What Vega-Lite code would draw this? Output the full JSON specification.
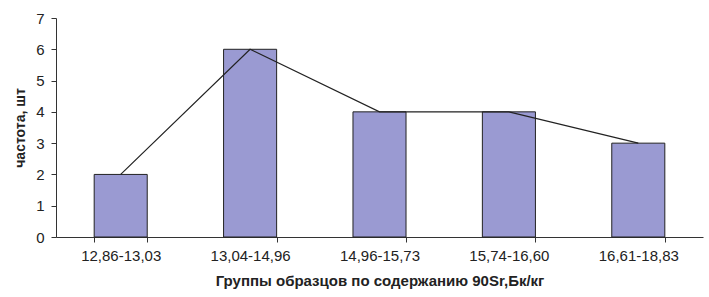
{
  "$schema": "https://vega.github.io/schema/vega-lite/v6.json",
  "width": 647,
  "height": 219,
  "autosize": {"type": "none"},
  "padding": {"left": 56, "top": 18, "right": 6, "bottom": 60},
  "background": "white",
  "config": {
    "view": {"stroke": null},
    "font": "Liberation Sans"
  },
  "data": {
    "values": [
      {"group": "12,86-13,03", "count": 2},
      {"group": "13,04-14,96", "count": 6},
      {"group": "14,96-15,73", "count": 4},
      {"group": "15,74-16,60", "count": 4},
      {"group": "16,61-18,83", "count": 3}
    ]
  },
  "encoding": {
    "x": {
      "field": "group",
      "type": "nominal",
      "sort": null,
      "scale": {"paddingInner": 0.59, "paddingOuter": 0.295},
      "axis": {
        "title": "Группы образцов по содержанию 90Sr,Бк/кг",
        "titleFont": "Liberation Sans",
        "titleFontSize": 15,
        "titleFontWeight": "bold",
        "titleColor": "#222",
        "titlePadding": 10,
        "labelAngle": 0,
        "labelFontSize": 15,
        "labelColor": "#222",
        "labelPadding": 6,
        "tickBand": "extent",
        "tickSize": 5,
        "tickColor": "#333",
        "domainColor": "#333",
        "grid": false
      }
    },
    "y": {
      "field": "count",
      "type": "quantitative",
      "scale": {"domain": [0, 7], "nice": false},
      "axis": {
        "title": "частота, шт",
        "titleFont": "Liberation Sans",
        "titleFontSize": 14,
        "titleFontWeight": "bold",
        "titleColor": "#222",
        "titlePadding": 8,
        "values": [0, 1, 2, 3, 4, 5, 6, 7],
        "labelFontSize": 15,
        "labelColor": "#222",
        "labelPadding": 7,
        "tickSize": 5,
        "tickColor": "#333",
        "domainColor": "#333",
        "grid": false
      }
    }
  },
  "layer": [
    {
      "mark": {"type": "bar", "color": "#9a9ad2", "stroke": "#222", "strokeWidth": 1}
    },
    {
      "mark": {"type": "line", "color": "#222", "strokeWidth": 1.2}
    }
  ]
}
